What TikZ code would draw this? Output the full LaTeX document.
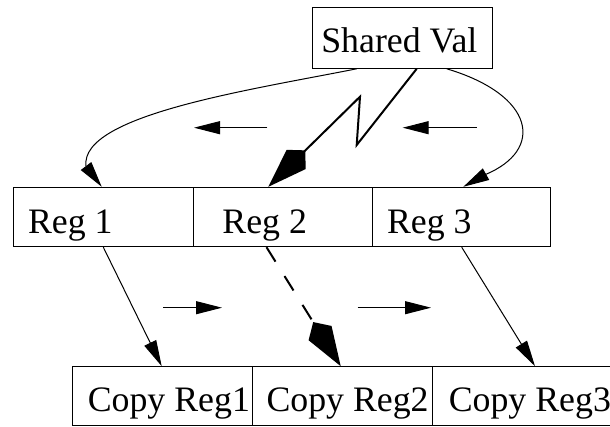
\documentclass[tikz,border=0pt]{standalone}
\usepackage{fontspec}
\setmainfont{Liberation Serif}
\usetikzlibrary{arrows.meta}
\begin{document}
\begin{tikzpicture}[x=1pt,y=-1pt,line width=1pt,
  box/.style={draw,rectangle,inner sep=0pt,line width=1pt},
  lbl/.style={anchor=base west,inner sep=0pt,font=\fontsize{35.8}{40}\selectfont},
  tri/.style={-{Triangle[length=26pt,width=13pt]},line width=1pt},
  kitearrow/.style={-{Kite[length=52pt,width=27pt,inset=13pt]},line width=2pt}]
\useasboundingbox (0,0) rectangle (610,427);
% boxes
\node[box,minimum width=180pt,minimum height=61pt] (shared) at (402,37.8) {};
\node[box,minimum width=180pt,minimum height=59.4pt] (reg1) at (103.3,217) {};
\node[box,minimum width=178.7pt,minimum height=59.4pt] (reg2) at (282.65,217) {};
\node[box,minimum width=178pt,minimum height=59.4pt] (reg3) at (461,217) {};
\node[box,minimum width=180pt,minimum height=59pt] (copy1) at (162.7,396.2) {};
\node[box,minimum width=180pt,minimum height=59pt] (copy2) at (342.7,396.2) {};
\node[box,minimum width=180pt,minimum height=59pt] (copy3) at (522.7,396.2) {};
% texts
\node[lbl] (tshared) at (320.8,52.7) {Shared Val};
\node[lbl] (treg1) at (27.6,233.3) {Reg 1};
\node[lbl] (treg2) at (221.9,233.3) {Reg 2};
\node[lbl] (treg3) at (386.5,233.3) {Reg 3};
\node[lbl] (tcopy1) at (87.3,411.7) {Copy Reg1};
\node[lbl] (tcopy2) at (266,411.7) {Copy Reg2};
\node[lbl] (tcopy3) at (448.3,411.7) {Copy Reg3};
% curved connectors
\draw[tri] ([xshift=-45.3pt]shared.south) .. controls (250,90) and (80,115) .. (86,166) -- ([xshift=-1.6pt]reg1.north);
\draw[tri] ([xshift=44.7pt]shared.south) .. controls (535,95) and (545,150) .. (485,174.7) -- ([xshift=2.3pt]reg3.north);
% zigzag
\draw[kitearrow] ([xshift=14.7pt]shared.south) -- (356.7,145) -- (360,96.7) -- ([xshift=-14.35pt]reg2.north);
% register to copy
\draw[tri] ([xshift=0pt]reg1.south) -- ([xshift=-1pt]copy1.north);
\draw[tri] ([xshift=0.7pt]reg3.south) -- ([xshift=12.3pt]copy3.north);
\draw[kitearrow,dash pattern=on 17pt off 17pt] ([xshift=-16.15pt]reg2.south) -- ([xshift=-2pt]copy2.north);
% direction arrows
\coordinate (ha1s) at (267.3,127.7); \coordinate (ha1e) at (194,127.7);
\coordinate (ha2s) at (476.7,127.7); \coordinate (ha2e) at (402.7,127.7);
\coordinate (hb1s) at (163.3,307.7); \coordinate (hb1e) at (222,307.7);
\coordinate (hb2s) at (357.5,307.7); \coordinate (hb2e) at (431,307.7);
\draw[tri] (ha1s) -- (ha1e);
\draw[tri] (ha2s) -- (ha2e);
\draw[tri] (hb1s) -- (hb1e);
\draw[tri] (hb2s) -- (hb2e);
\end{tikzpicture}
\end{document}
